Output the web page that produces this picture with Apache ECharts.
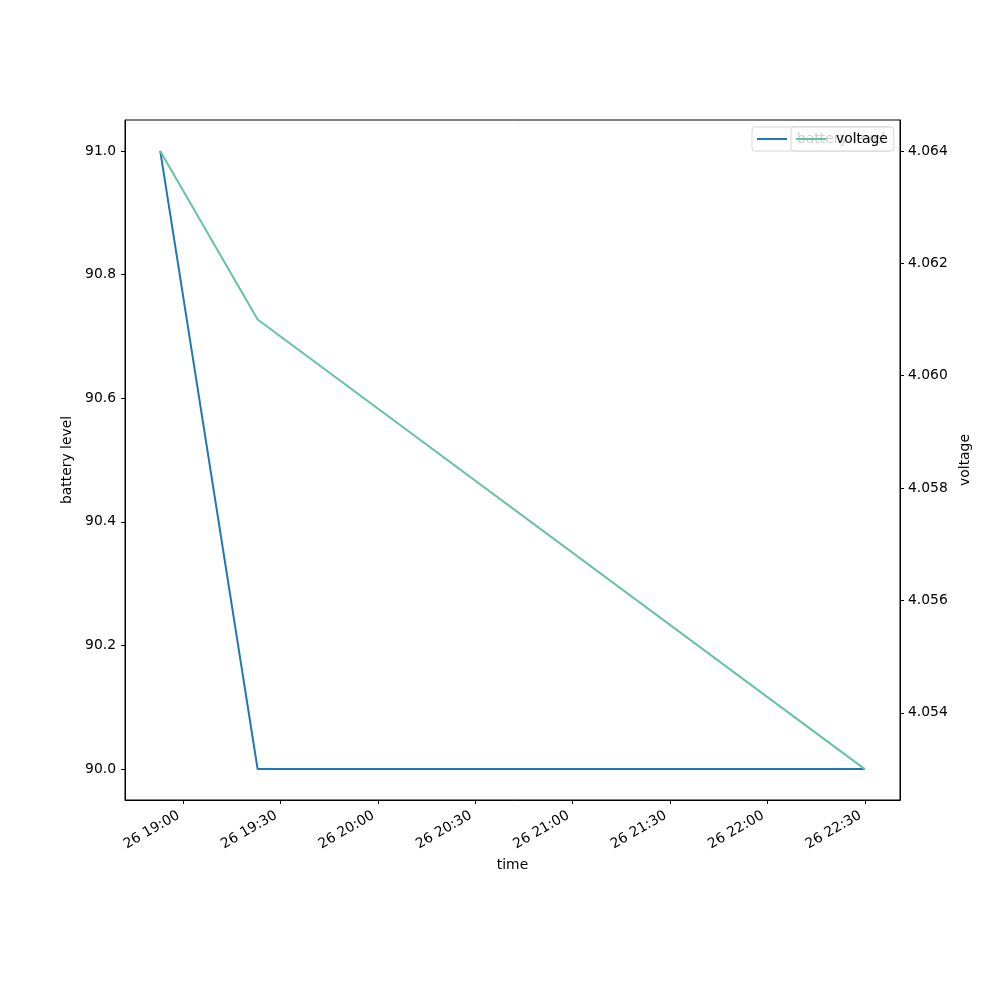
<!DOCTYPE html>
<html>
<head>
<meta charset="utf-8">
<script src="https://cdn.jsdelivr.net/npm/echarts@6/dist/echarts.min.js"></script>
<style>html,body{margin:0;padding:0;background:#fff}#c{width:1000px;height:1000px}</style>
</head>
<body>
<div id="c"></div>
<script>
// time as minutes after midnight on day 26
const timeMinutes = [1133, 1163, 1350];
const batteryLevel = [91.0, 90.0, 90.0];
const voltage = [4.064, 4.061, 4.053];
const dayLabel = '26';

const FONT = 'DejaVu Sans';
const FS = 13.89;

function pad2(n){ return (n < 10 ? '0' : '') + n; }
function fmtTime(v){
  const r = Math.round(v);
  if (Math.abs(v - r) > 1e-6 || r % 30 !== 0) return '';
  return dayLabel + ' ' + pad2(Math.floor(r / 60)) + ':' + pad2(r % 60);
}

const tMin = Math.min(...timeMinutes), tMax = Math.max(...timeMinutes);
const tPad = (tMax - tMin) * 0.05;
const bMin = Math.min(...batteryLevel), bMax = Math.max(...batteryLevel);
const bPad = (bMax - bMin) * 0.05;
const vMin = Math.min(...voltage), vMax = Math.max(...voltage);
const vPad = (vMax - vMin) * 0.05;

const chart = echarts.init(document.getElementById('c'), null, {renderer: 'canvas'});
const axisCommon = {
  axisLine: {show: true, lineStyle: {color: '#000', width: 1}},
  axisTick: {show: true, length: 4, lineStyle: {color: '#000', width: 1}},
  splitLine: {show: false},
  nameTextStyle: {fontFamily: FONT, fontSize: FS, color: '#000'}
};
chart.setOption({
  animation: false,
  backgroundColor: '#fff',
  textStyle: {fontFamily: FONT},
  grid: {left: 125, right: 100, top: 120, bottom: 200, show: true, borderColor: '#000', borderWidth: 1, containLabel: false},
  legend: [
    {
      data: [{name: 'battery level', icon: 'rect'}],
      left: 752, top: 127, orient: 'horizontal',
      itemWidth: 30, itemHeight: 2,
      padding: [5, 6, 5, 5],
      backgroundColor: 'rgba(255,255,255,0.8)',
      borderColor: 'rgba(204,204,204,0.8)', borderWidth: 1, borderRadius: 3,
      selectedMode: false, z: 4,
      textStyle: {fontFamily: FONT, fontSize: FS, color: '#000', padding: [0, 0, 0, 5]}
    },
    {
      data: [{name: 'voltage', icon: 'rect'}],
      left: 791, top: 127, orient: 'horizontal',
      itemWidth: 30, itemHeight: 2,
      padding: [5, 6, 5, 5],
      backgroundColor: 'rgba(255,255,255,0.8)',
      borderColor: 'rgba(204,204,204,0.8)', borderWidth: 1, borderRadius: 3,
      selectedMode: false, z: 6,
      textStyle: {fontFamily: FONT, fontSize: FS, color: '#000', padding: [0, 0, 0, 5]}
    }
  ],
  xAxis: Object.assign({}, axisCommon, {
    type: 'value',
    min: tMin - tPad, max: tMax + tPad,
    splitNumber: 8,
    name: 'time', nameLocation: 'middle', nameGap: 57,
    axisLabel: {
      rotate: 30, margin: 12, padding: [0, 5, 0, 0],
      fontFamily: FONT, fontSize: FS, color: '#000',
      showMinLabel: false, showMaxLabel: false,
      formatter: fmtTime
    }
  }),
  yAxis: [
    Object.assign({}, axisCommon, {
      type: 'value', position: 'left',
      min: bMin - bPad, max: bMax + bPad,
      splitNumber: 5,
      name: 'battery level', nameLocation: 'middle', nameGap: 45, nameRotate: 90,
      axisLabel: {
        margin: 9, fontFamily: FONT, fontSize: FS, color: '#000',
        showMinLabel: false, showMaxLabel: false,
        formatter: v => (Math.abs(v * 5 - Math.round(v * 5)) < 1e-6 ? v.toFixed(1) : '')
      }
    }),
    Object.assign({}, axisCommon, {
      type: 'value', position: 'right',
      min: vMin - vPad, max: vMax + vPad,
      splitNumber: 6,
      name: 'voltage', nameLocation: 'middle', nameGap: 51, nameRotate: 90,
      axisLabel: {
        margin: 8, fontFamily: FONT, fontSize: FS, color: '#000',
        showMinLabel: false, showMaxLabel: false,
        formatter: v => (Math.abs(v * 500 - Math.round(v * 500)) < 1e-6 ? v.toFixed(3) : '')
      }
    })
  ],
  series: [
    {
      name: 'battery level', type: 'line', yAxisIndex: 0,
      data: timeMinutes.map((t, i) => [t, batteryLevel[i]]),
      showSymbol: false, symbol: 'none',
      lineStyle: {color: '#1f77b4', width: 2}, itemStyle: {color: '#1f77b4'}, z: 2
    },
    {
      name: 'voltage', type: 'line', yAxisIndex: 1,
      data: timeMinutes.map((t, i) => [t, voltage[i]]),
      showSymbol: false, symbol: 'none',
      lineStyle: {color: '#66c2a5', width: 2}, itemStyle: {color: '#66c2a5'}, z: 3
    }
  ]
});
</script>
</body>
</html>
